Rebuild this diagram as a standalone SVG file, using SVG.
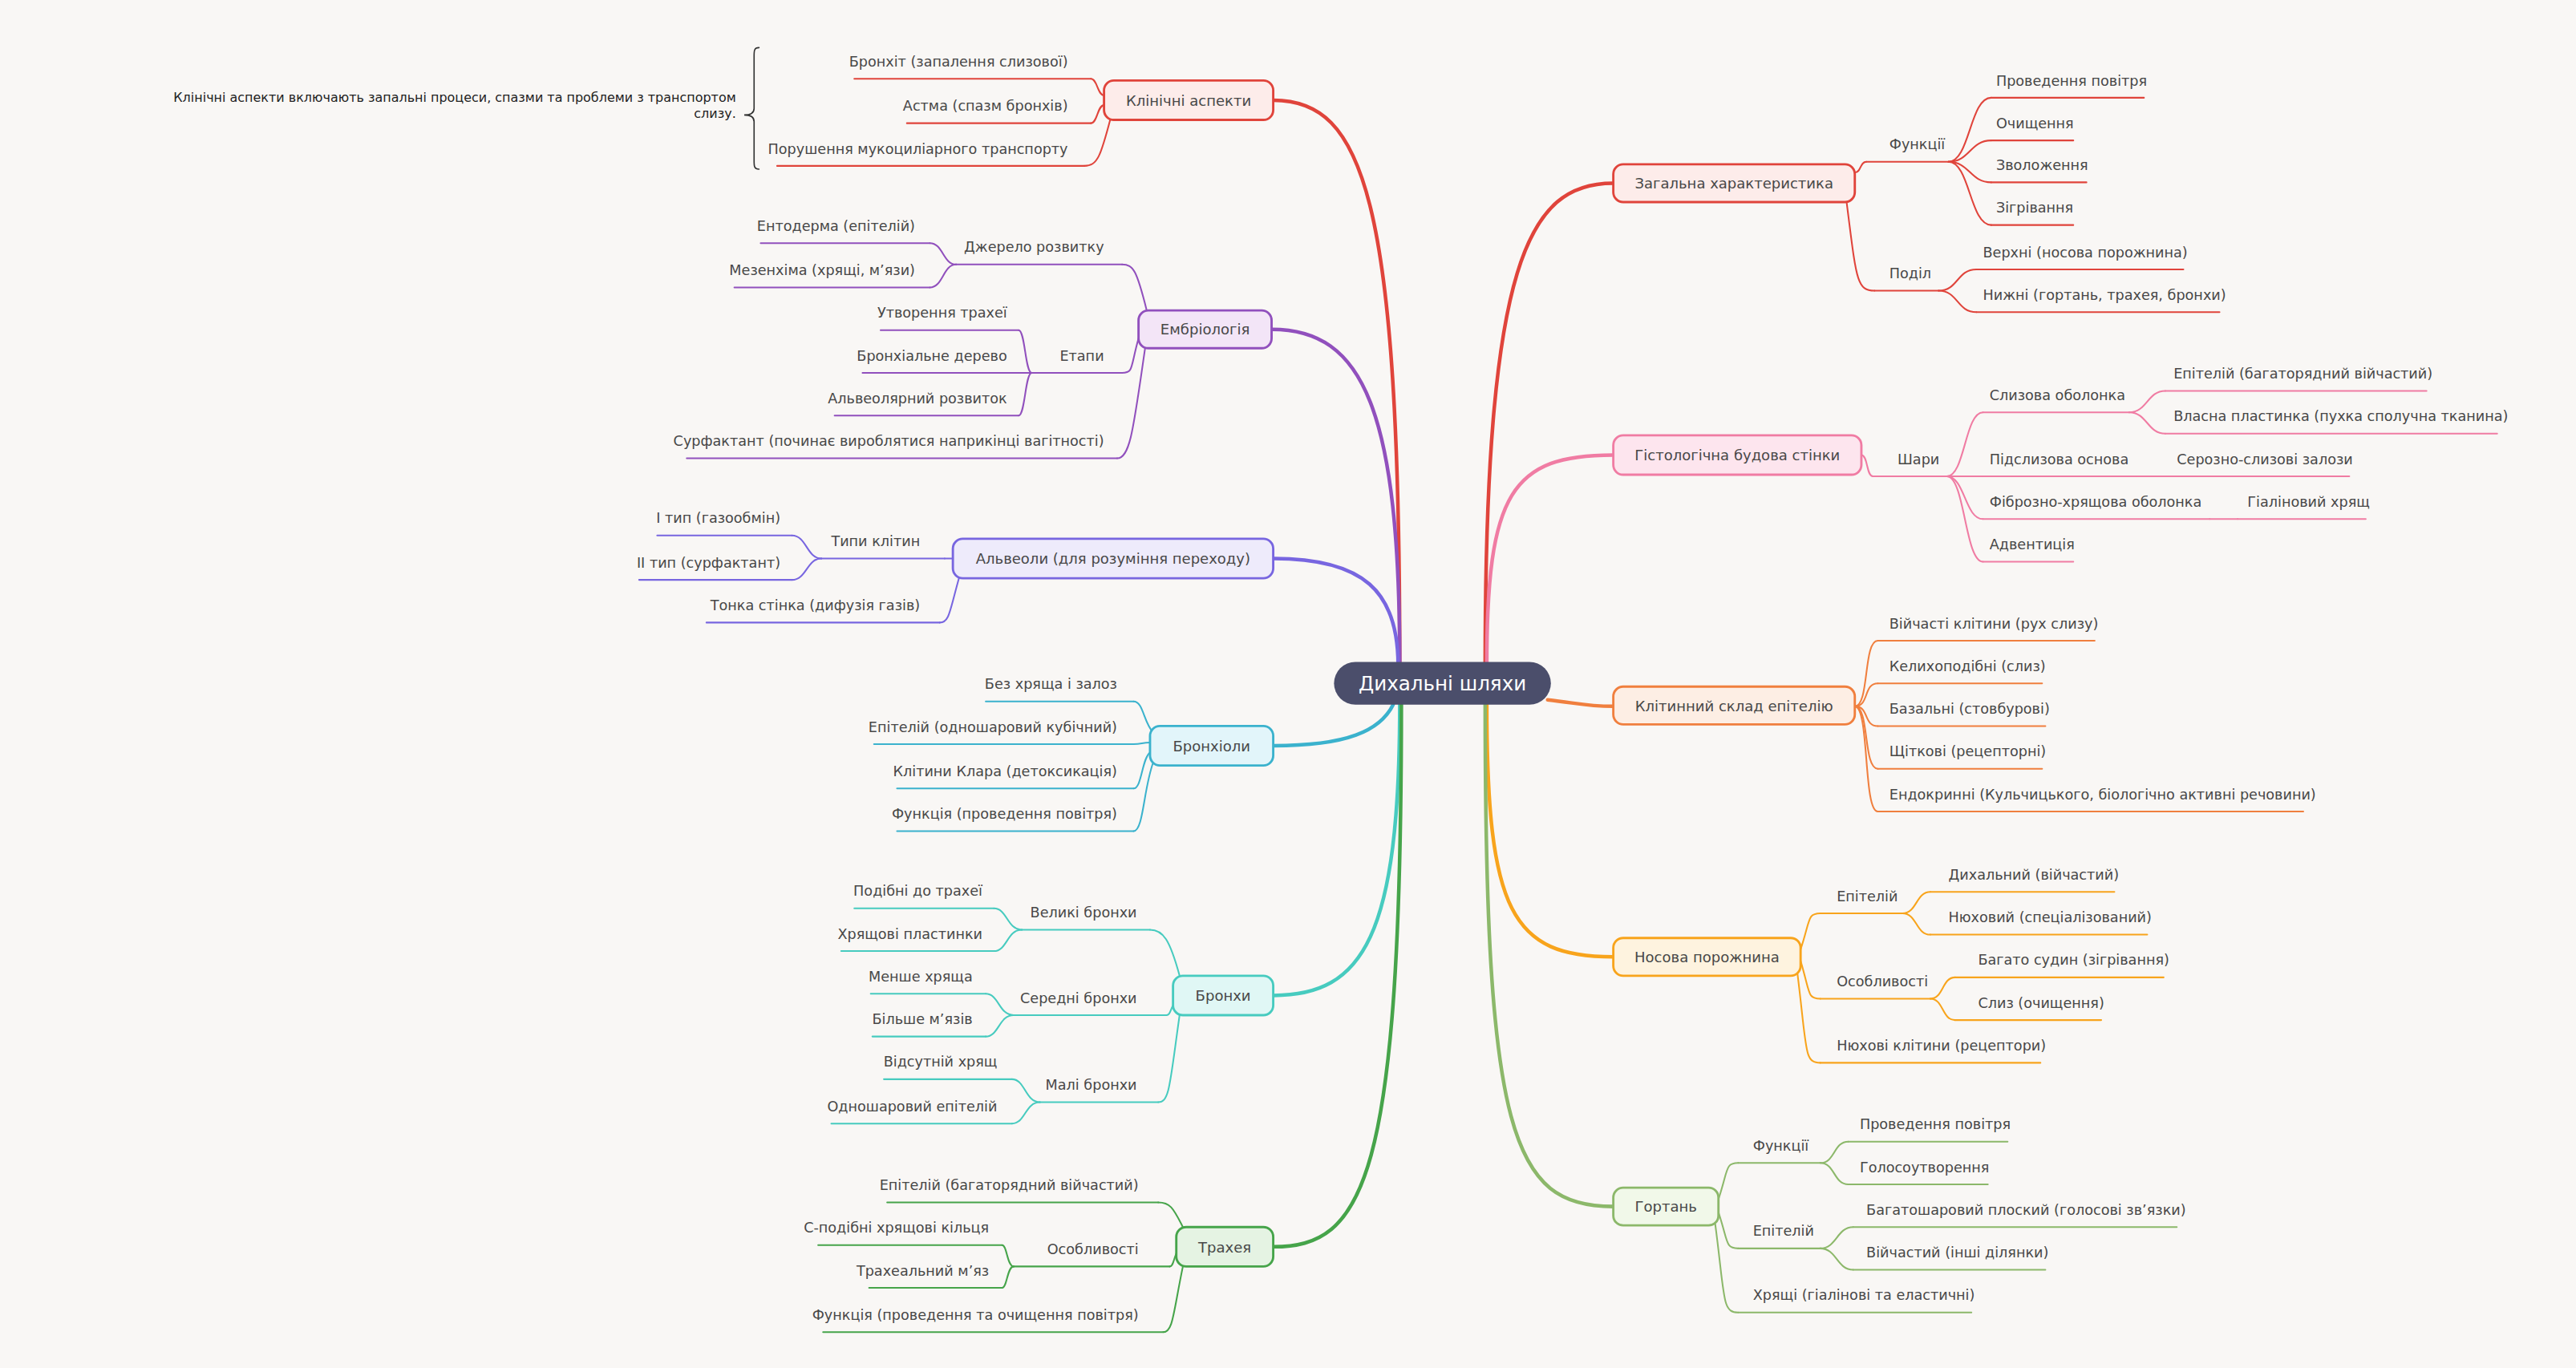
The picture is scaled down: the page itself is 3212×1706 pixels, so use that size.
<svg xmlns="http://www.w3.org/2000/svg" width="3212" height="1706" viewBox="0 0 3212 1706">
<style>
text{font-family:"DejaVu Sans","Noto Sans",sans-serif;font-size:8.6px;fill:#484848;stroke:none}
.e{text-anchor:end}
.m{text-anchor:middle;font-size:8.8px}
path,line{fill:none;stroke-linecap:round}
.c path{stroke-width:1}
.c .main{stroke-width:2.2}
line{stroke-width:1}
rect{stroke-width:1.4}
.red{stroke:#e0443b}.pink{stroke:#f07ca3}.org{stroke:#f07f3e}.amb{stroke:#f8a41c}.lg{stroke:#8cb86a}
.pur{stroke:#9150bd}.ind{stroke:#7866e0}.cy{stroke:#3bb2cd}.tl{stroke:#47cbbf}.gr{stroke:#46a44a}
</style>
<rect width="3212" height="1706" fill="#f9f7f5"/>
<g transform="scale(2.0485)">
<g class="c" id="connectors">
<path class="main red" d="M904 405 C904 160 930 111.5 982 111.5"/>
<path class="main pink" d="M905 405 C905 300 920 277 982 277"/>
<path class="main org" d="M942 426 C960 428 965 430 982 430"/>
<path class="main amb" d="M905 428 C905 555 920 582.5 982 582.5"/>
<path class="main lg" d="M904 428 C904 690 920 734.5 982 734.5"/>
<path class="main red" d="M852 405 C852 120 830 61 775 61"/>
<path class="main pur" d="M852 405 C852 250 830 200.5 774 200.5"/>
<path class="main ind" d="M851 405 C851 360 830 340 775 340"/>
<path class="main cy" d="M848 429 C840 445 820 454 775 454"/>
<path class="main tl" d="M852 428 C852 570 830 606 775 606"/>
<path class="main gr" d="M853 428 C853 720 830 759 775 759"/>
<g class="red">
<path d="M1129 105 C1133 105 1132 98.5 1136 98.5"/>
<path d="M1186 98.5 C1199 98.5 1199 59.5 1212 59.5"/><path d="M1186 98.5 C1199 98.5 1199 85.5 1212 85.5"/>
<path d="M1186 98.5 C1199 98.5 1199 111 1212 111"/><path d="M1186 98.5 C1199 98.5 1199 137 1212 137"/>
<path d="M1124 123 C1130 170 1130 177 1141 177"/>
<path d="M1180 177 C1192 177 1191 164 1203 164"/><path d="M1180 177 C1192 177 1191 190 1203 190"/>
</g>
<g class="pink">
<path d="M1133 277 C1137 277 1136 290 1140 290"/>
<path d="M1185 290 C1196 290 1196 251 1207 251"/><path d="M1185 290 L1207 290"/>
<path d="M1185 290 C1196 290 1196 316 1207 316"/><path d="M1185 290 C1196 290 1196 342 1207 342"/>
<path d="M1296 251 C1307 251 1307 238 1318 238"/><path d="M1296 251 C1307 251 1307 264 1318 264"/>
<path d="M1300 290 L1318 290"/><path d="M1345 316 L1362 316"/>
</g>
<g class="org">
<path d="M1129 430 C1138 430 1134 390 1143 390"/><path d="M1129 430 C1138 430 1134 416 1143 416"/>
<path d="M1129 430 C1138 430 1134 442 1143 442"/><path d="M1129 430 C1138 430 1134 468 1143 468"/>
<path d="M1129 430 C1138 430 1134 494 1143 494"/>
</g>
<g class="amb">
<path d="M1096 578 C1102 560 1100 556 1108 556"/>
<path d="M1158 556 C1167 556 1166 543 1175 543"/><path d="M1158 556 C1167 556 1166 569 1175 569"/>
<path d="M1096 585 C1102 605 1100 608 1108 608"/>
<path d="M1175 608 C1183 608 1182 595 1190 595"/><path d="M1175 608 C1183 608 1182 621 1190 621"/>
<path d="M1094 592 C1100 640 1098 647 1108 647"/>
</g>
<g class="lg">
<path d="M1046 730 C1052 712 1050 708 1058 708"/>
<path d="M1108 708 C1117 708 1116 695 1125 695"/><path d="M1108 708 C1117 708 1116 721 1125 721"/>
<path d="M1046 738 C1052 756 1050 760 1058 760"/>
<path d="M1108 760 C1118 760 1118 747 1128 747"/><path d="M1108 760 C1118 760 1118 773 1128 773"/>
<path d="M1044 745 C1050 790 1048 799 1058 799"/>
</g>
<g class="red">
<path d="M672 58 C668 58 668 48 664 48"/><path d="M672 64 C668 64 668 75 664 75"/>
<path d="M676 72 C670 95 668 101 660 101"/>
</g>
<g class="pur">
<path d="M698 189 C692 165 690 161 683 161"/>
<path d="M582 161 C574 161 574 148 566 148"/><path d="M582 161 C574 161 574 175 566 175"/>
<path d="M693 206 C688 224 690 227 683 227"/>
<path d="M628 227 C624 227 624 201 620 201"/><path d="M628 227 L620 227"/><path d="M628 227 C624 227 624 253 620 253"/>
<path d="M697 212 C690 260 688 279 680 279"/>
</g>
<g class="ind">
<path d="M580 340 L575 340"/>
<path d="M500 340 C491 340 491 326 482 326"/><path d="M500 340 C491 340 491 353 482 353"/>
<path d="M584 351 C578 372 578 379 572 379"/>
</g>
<g class="cy">
<path d="M702 446 C696 440 696 427 690 427"/><path d="M700 452 C695 452 695 453 690 453"/>
<path d="M700 458 C695 462 695 480 690 480"/><path d="M702 464 C696 480 696 506 690 506"/>
</g>
<g class="tl">
<path d="M718 594 C712 572 708 566 700 566"/>
<path d="M622 566 C613 566 613 553 605 553"/><path d="M622 566 C613 566 613 579 605 579"/>
<path d="M714 612 C712 616 712 618 710 618"/>
<path d="M617 618 C608 618 608 605 600 605"/><path d="M617 618 C608 618 608 631 600 631"/>
<path d="M718 618 C712 660 712 671 705 671"/>
<path d="M633 671 C624 671 624 657 616 657"/><path d="M633 671 C624 671 624 684 616 684"/>
</g>
<g class="gr">
<path d="M720 747 C714 735 712 732 705 732"/>
<path d="M716 763 C714 768 714 771 712 771"/>
<path d="M617 771 C613 771 613 758 610 758"/><path d="M617 771 C613 771 613 784 610 784"/>
<path d="M720 771 C714 800 714 811 708 811"/>
</g>
</g>

<g id="center"><rect x="812" y="403" width="132" height="26" rx="13" fill="#4b4e6b" stroke="none"/><text x="878" y="420.5" class="m" style="font-size:12px;fill:#fff">Дихальні шляхи</text></g>

<g id="n-zag"><rect x="982" y="100" width="147" height="23" rx="6" fill="#fdecea" class="red"/><text x="1055.5" y="114.8" class="m">Загальна характеристика</text></g>
<g id="n-zag-f" class="red"><line x1="1136" y1="98.5" x2="1186" y2="98.5"/><text x="1150" y="91">Функції</text></g>
<g id="n-zag-f1" class="red"><line x1="1212" y1="59.5" x2="1305" y2="59.5"/><text x="1215" y="52">Проведення повітря</text></g>
<g id="n-zag-f2" class="red"><line x1="1212" y1="85.5" x2="1262" y2="85.5"/><text x="1215" y="78">Очищення</text></g>
<g id="n-zag-f3" class="red"><line x1="1212" y1="111" x2="1270" y2="111"/><text x="1215" y="103.5">Зволоження</text></g>
<g id="n-zag-f4" class="red"><line x1="1212" y1="137" x2="1262" y2="137"/><text x="1215" y="129.5">Зігрівання</text></g>
<g id="n-zag-p" class="red"><line x1="1141" y1="177" x2="1180" y2="177"/><text x="1150" y="169.5">Поділ</text></g>
<g id="n-zag-p1" class="red"><line x1="1203" y1="164" x2="1329" y2="164"/><text x="1207" y="156.5">Верхні (носова порожнина)</text></g>
<g id="n-zag-p2" class="red"><line x1="1203" y1="190" x2="1351" y2="190"/><text x="1207" y="182.5">Нижні (гортань, трахея, бронхи)</text></g>

<g id="n-hist"><rect x="982" y="265" width="151" height="24" rx="6" fill="#fde5ee" class="pink"/><text x="1057.5" y="280.3" class="m">Гістологічна будова стінки</text></g>
<g id="n-hist-s" class="pink"><line x1="1140" y1="290" x2="1185" y2="290"/><text x="1155" y="282.5">Шари</text></g>
<g id="n-hist-1" class="pink"><line x1="1207" y1="251" x2="1296" y2="251"/><text x="1211" y="243.5">Слизова оболонка</text></g>
<g id="n-hist-1a" class="pink"><line x1="1318" y1="238" x2="1477" y2="238"/><text x="1323" y="230.5">Епітелій (багаторядний війчастий)</text></g>
<g id="n-hist-1b" class="pink"><line x1="1318" y1="264" x2="1520" y2="264"/><text x="1323" y="256.5">Власна пластинка (пухка сполучна тканина)</text></g>
<g id="n-hist-2" class="pink"><line x1="1207" y1="290" x2="1300" y2="290"/><text x="1211" y="282.5">Підслизова основа</text></g>
<g id="n-hist-2a" class="pink"><line x1="1318" y1="290" x2="1430" y2="290"/><text x="1325" y="282.5">Серозно-слизові залози</text></g>
<g id="n-hist-3" class="pink"><line x1="1207" y1="316" x2="1345" y2="316"/><text x="1211" y="308.5">Фіброзно-хрящова оболонка</text></g>
<g id="n-hist-3a" class="pink"><line x1="1362" y1="316" x2="1440" y2="316"/><text x="1368" y="308.5">Гіаліновий хрящ</text></g>
<g id="n-hist-4" class="pink"><line x1="1207" y1="342" x2="1262" y2="342"/><text x="1211" y="334.5">Адвентиція</text></g>

<g id="n-cell"><rect x="982" y="418" width="147" height="23" rx="6" fill="#fdeee4" class="org"/><text x="1055.5" y="432.8" class="m">Клітинний склад епітелію</text></g>
<g id="n-cell-1" class="org"><line x1="1143" y1="390" x2="1275" y2="390"/><text x="1150" y="382.5">Війчасті клітини (рух слизу)</text></g>
<g id="n-cell-2" class="org"><line x1="1143" y1="416" x2="1243" y2="416"/><text x="1150" y="408.5">Келихоподібні (слиз)</text></g>
<g id="n-cell-3" class="org"><line x1="1143" y1="442" x2="1245" y2="442"/><text x="1150" y="434.5">Базальні (стовбурові)</text></g>
<g id="n-cell-4" class="org"><line x1="1143" y1="468" x2="1243" y2="468"/><text x="1150" y="460.5">Щіткові (рецепторні)</text></g>
<g id="n-cell-5" class="org"><line x1="1143" y1="494" x2="1402" y2="494"/><text x="1150" y="486.5">Ендокринні (Кульчицького, біологічно активні речовини)</text></g>

<g id="n-nos"><rect x="982" y="571" width="114" height="23" rx="6" fill="#fef3df" class="amb"/><text x="1039" y="585.8" class="m">Носова порожнина</text></g>
<g id="n-nos-e" class="amb"><line x1="1108" y1="556" x2="1158" y2="556"/><text x="1118" y="548.5">Епітелій</text></g>
<g id="n-nos-e1" class="amb"><line x1="1175" y1="543" x2="1287" y2="543"/><text x="1186" y="535.5">Дихальний (війчастий)</text></g>
<g id="n-nos-e2" class="amb"><line x1="1175" y1="569" x2="1307" y2="569"/><text x="1186" y="561.5">Нюховий (спеціалізований)</text></g>
<g id="n-nos-o" class="amb"><line x1="1108" y1="608" x2="1175" y2="608"/><text x="1118" y="600.5">Особливості</text></g>
<g id="n-nos-o1" class="amb"><line x1="1190" y1="595" x2="1317" y2="595"/><text x="1204" y="587.5">Багато судин (зігрівання)</text></g>
<g id="n-nos-o2" class="amb"><line x1="1190" y1="621" x2="1279" y2="621"/><text x="1204" y="613.5">Слиз (очищення)</text></g>
<g id="n-nos-n" class="amb"><line x1="1108" y1="647" x2="1242" y2="647"/><text x="1118" y="639.5">Нюхові клітини (рецептори)</text></g>

<g id="n-gor"><rect x="982" y="723" width="64" height="23" rx="6" fill="#f1f8e9" class="lg"/><text x="1014" y="737.8" class="m">Гортань</text></g>
<g id="n-gor-f" class="lg"><line x1="1058" y1="708" x2="1108" y2="708"/><text x="1067" y="700.5">Функції</text></g>
<g id="n-gor-f1" class="lg"><line x1="1125" y1="695" x2="1222" y2="695"/><text x="1132" y="687.5">Проведення повітря</text></g>
<g id="n-gor-f2" class="lg"><line x1="1125" y1="721" x2="1210" y2="721"/><text x="1132" y="713.5">Голосоутворення</text></g>
<g id="n-gor-e" class="lg"><line x1="1058" y1="760" x2="1108" y2="760"/><text x="1067" y="752.5">Епітелій</text></g>
<g id="n-gor-e1" class="lg"><line x1="1128" y1="747" x2="1325" y2="747"/><text x="1136" y="739.5">Багатошаровий плоский (голосові зв’язки)</text></g>
<g id="n-gor-e2" class="lg"><line x1="1128" y1="773" x2="1245" y2="773"/><text x="1136" y="765.5">Війчастий (інші ділянки)</text></g>
<g id="n-gor-h" class="lg"><line x1="1058" y1="799" x2="1200" y2="799"/><text x="1067" y="791.5">Хрящі (гіалінові та еластичні)</text></g>

<g id="n-klin"><rect x="672" y="49" width="103" height="24" rx="6" fill="#fdecea" class="red"/><text x="723.5" y="64.3" class="m">Клінічні аспекти</text></g>
<g id="n-klin-1" class="red"><line x1="520" y1="48" x2="664" y2="48"/><text x="650" y="40.5" class="e">Бронхіт (запалення слизової)</text></g>
<g id="n-klin-2" class="red"><line x1="552" y1="75" x2="664" y2="75"/><text x="650" y="67.5" class="e">Астма (спазм бронхів)</text></g>
<g id="n-klin-3" class="red"><line x1="473" y1="101" x2="660" y2="101"/><text x="650" y="93.5" class="e">Порушення мукоциліарного транспорту</text></g>
<g id="note"><path d="M462 29 C459 29 459 31 459 34 L459 66 C459 69 457 70 453 70 C457 70 459 71 459 74 L459 98 C459 101 459 103 462 103" style="stroke:#333;stroke-width:0.8;fill:none"/>
<text x="448" y="62" class="e" style="font-size:7.8px;fill:#222">Клінічні аспекти включають запальні процеси, спазми та проблеми з транспортом</text>
<text x="448" y="72" class="e" style="font-size:7.8px;fill:#222">слизу.</text></g>

<g id="n-emb"><rect x="693" y="189" width="81" height="23" rx="6" fill="#f3e5f7" class="pur"/><text x="733.5" y="203.8" class="m">Ембріологія</text></g>
<g id="n-emb-d" class="pur"><line x1="582" y1="161" x2="683" y2="161"/><text x="672" y="153.5" class="e">Джерело розвитку</text></g>
<g id="n-emb-d1" class="pur"><line x1="463" y1="148" x2="566" y2="148"/><text x="557" y="140.5" class="e">Ентодерма (епітелій)</text></g>
<g id="n-emb-d2" class="pur"><line x1="447" y1="175" x2="566" y2="175"/><text x="557" y="167.5" class="e">Мезенхіма (хрящі, м’язи)</text></g>
<g id="n-emb-e" class="pur"><line x1="628" y1="227" x2="683" y2="227"/><text x="672" y="219.5" class="e">Етапи</text></g>
<g id="n-emb-e1" class="pur"><line x1="536" y1="201" x2="620" y2="201"/><text x="613" y="193.5" class="e">Утворення трахеї</text></g>
<g id="n-emb-e2" class="pur"><line x1="525" y1="227" x2="620" y2="227"/><text x="613" y="219.5" class="e">Бронхіальне дерево</text></g>
<g id="n-emb-e3" class="pur"><line x1="508" y1="253" x2="620" y2="253"/><text x="613" y="245.5" class="e">Альвеолярний розвиток</text></g>
<g id="n-emb-s" class="pur"><line x1="418" y1="279" x2="680" y2="279"/><text x="672" y="271.5" class="e">Сурфактант (починає вироблятися наприкінці вагітності)</text></g>

<g id="n-alv"><rect x="580" y="328" width="195" height="24" rx="6" fill="#eeebfb" class="ind"/><text x="677.5" y="343.3" class="m">Альвеоли (для розуміння переходу)</text></g>
<g id="n-alv-t" class="ind"><line x1="500" y1="340" x2="575" y2="340"/><text x="560" y="332.5" class="e">Типи клітин</text></g>
<g id="n-alv-t1" class="ind"><line x1="400" y1="326" x2="482" y2="326"/><text x="475" y="318.5" class="e">I тип (газообмін)</text></g>
<g id="n-alv-t2" class="ind"><line x1="389" y1="353" x2="482" y2="353"/><text x="475" y="345.5" class="e">II тип (сурфактант)</text></g>
<g id="n-alv-s" class="ind"><line x1="430" y1="379" x2="572" y2="379"/><text x="560" y="371.5" class="e">Тонка стінка (дифузія газів)</text></g>

<g id="n-bril"><rect x="700" y="442" width="75" height="24" rx="6" fill="#e2f5fa" class="cy"/><text x="737.5" y="457.3" class="m">Бронхіоли</text></g>
<g id="n-bril-1" class="cy"><line x1="600" y1="427" x2="690" y2="427"/><text x="680" y="419.5" class="e">Без хряща і залоз</text></g>
<g id="n-bril-2" class="cy"><line x1="532" y1="453" x2="690" y2="453"/><text x="680" y="445.5" class="e">Епітелій (одношаровий кубічний)</text></g>
<g id="n-bril-3" class="cy"><line x1="546" y1="480" x2="690" y2="480"/><text x="680" y="472.5" class="e">Клітини Клара (детоксикація)</text></g>
<g id="n-bril-4" class="cy"><line x1="546" y1="506" x2="690" y2="506"/><text x="680" y="498.5" class="e">Функція (проведення повітря)</text></g>

<g id="n-bro"><rect x="714" y="594" width="61" height="24" rx="6" fill="#e0f7f5" class="tl"/><text x="744.5" y="609.3" class="m">Бронхи</text></g>
<g id="n-bro-v" class="tl"><line x1="622" y1="566" x2="700" y2="566"/><text x="692" y="558.5" class="e">Великі бронхи</text></g>
<g id="n-bro-v1" class="tl"><line x1="520" y1="553" x2="605" y2="553"/><text x="598" y="545.5" class="e">Подібні до трахеї</text></g>
<g id="n-bro-v2" class="tl"><line x1="512" y1="579" x2="605" y2="579"/><text x="598" y="571.5" class="e">Хрящові пластинки</text></g>
<g id="n-bro-s" class="tl"><line x1="617" y1="618" x2="710" y2="618"/><text x="692" y="610.5" class="e">Середні бронхи</text></g>
<g id="n-bro-s1" class="tl"><line x1="530" y1="605" x2="600" y2="605"/><text x="592" y="597.5" class="e">Менше хряща</text></g>
<g id="n-bro-s2" class="tl"><line x1="531" y1="631" x2="600" y2="631"/><text x="592" y="623.5" class="e">Більше м’язів</text></g>
<g id="n-bro-m" class="tl"><line x1="633" y1="671" x2="705" y2="671"/><text x="692" y="663.5" class="e">Малі бронхи</text></g>
<g id="n-bro-m1" class="tl"><line x1="538" y1="657" x2="616" y2="657"/><text x="607" y="649.5" class="e">Відсутній хрящ</text></g>
<g id="n-bro-m2" class="tl"><line x1="506" y1="684" x2="616" y2="684"/><text x="607" y="676.5" class="e">Одношаровий епітелій</text></g>

<g id="n-tra"><rect x="716" y="747" width="59" height="24" rx="6" fill="#e5f3e3" class="gr"/><text x="745.5" y="762.3" class="m">Трахея</text></g>
<g id="n-tra-e" class="gr"><line x1="540" y1="732" x2="705" y2="732"/><text x="693" y="724.5" class="e">Епітелій (багаторядний війчастий)</text></g>
<g id="n-tra-o" class="gr"><line x1="617" y1="771" x2="712" y2="771"/><text x="693" y="763.5" class="e">Особливості</text></g>
<g id="n-tra-o1" class="gr"><line x1="498" y1="758" x2="610" y2="758"/><text x="602" y="750.5" class="e">С-подібні хрящові кільця</text></g>
<g id="n-tra-o2" class="gr"><line x1="529" y1="784" x2="610" y2="784"/><text x="602" y="776.5" class="e">Трахеальний м’яз</text></g>
<g id="n-tra-f" class="gr"><line x1="501" y1="811" x2="708" y2="811"/><text x="693" y="803.5" class="e">Функція (проведення та очищення повітря)</text></g>
</g>
</svg>
